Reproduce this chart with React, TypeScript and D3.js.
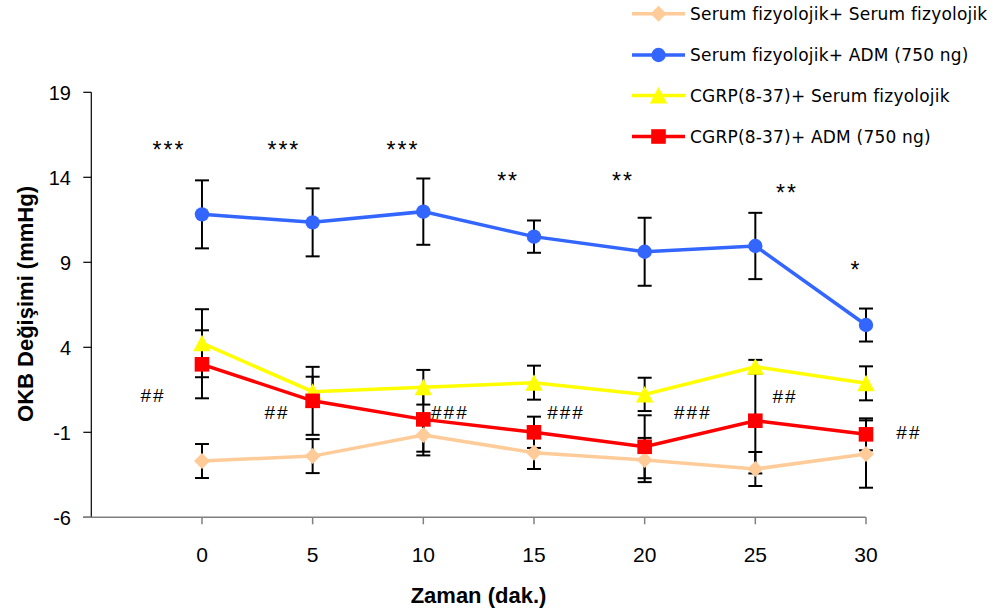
import React from "react";
import * as d3 from "d3";

// Time points (minutes)
const times = [0, 5, 10, 15, 20, 25, 30];

// Series means and SEM
const sfSf = [-2.69, -2.4, -1.16, -2.2, -2.63, -3.16, -2.28];
const sfSfErr = [1.0, 1.0, 1.2, 0.96, 1.3, 1.0, 1.98];

const sfAdm = [11.82, 11.35, 11.98, 10.51, 9.62, 9.96, 5.31];
const sfAdmErr = [2.0, 2.0, 1.95, 0.95, 2.0, 1.95, 0.97];

const cgrpSf = [4.24, 1.39, 1.65, 1.92, 1.23, 2.86, 1.88];
const cgrpSfErr = [2.0, 0.88, 1.02, 1.0, 0.98, 0.4, 1.0];

const cgrpAdm = [3.0, 0.85, -0.24, -1.0, -1.85, -0.32, -1.12];
const cgrpAdmErr = [2.0, 2.0, 1.9, 0.92, 1.85, 3.1, 0.94];

const seriesNames = [
  "Serum fizyolojik+ Serum fizyolojik",
  "Serum fizyolojik+ ADM (750 ng)",
  "CGRP(8-37)+ Serum fizyolojik",
  "CGRP(8-37)+ ADM (750 ng)",
];

const yTicks = [-6, -1, 4, 9, 14, 19];
const xTicks = [0, 5, 10, 15, 20, 25, 30];

// Significance marks, placed in data coordinates
const annotations: { t: number; v: number; label: string }[] = [
  { t: -1.49, v: 15.84, label: "***" },
  { t: 3.7, v: 15.84, label: "***" },
  { t: 9.08, v: 15.84, label: "***" },
  { t: 13.83, v: 14.02, label: "**" },
  { t: 19.02, v: 14.02, label: "**" },
  { t: 26.43, v: 13.31, label: "**" },
  { t: 29.55, v: 8.78, label: "*" },
  { t: -2.21, v: 1.19, label: "##" },
  { t: 3.39, v: 0.19, label: "##" },
  { t: 11.2, v: 0.19, label: "###" },
  { t: 16.45, v: 0.19, label: "###" },
  { t: 22.18, v: 0.19, label: "###" },
  { t: 26.34, v: 1.14, label: "##" },
  { t: 31.94, v: -0.98, label: "##" },
];

type Shape = "diamond" | "circle" | "triangle" | "square";

const series: { name: string; values: number[]; errs: number[]; color: string; shape: Shape }[] = [
  { name: seriesNames[0], values: sfSf, errs: sfSfErr, color: "#FFCC99", shape: "diamond" },
  { name: seriesNames[1], values: sfAdm, errs: sfAdmErr, color: "#3366FF", shape: "circle" },
  { name: seriesNames[2], values: cgrpSf, errs: cgrpSfErr, color: "#FFFF00", shape: "triangle" },
  { name: seriesNames[3], values: cgrpAdm, errs: cgrpAdmErr, color: "#FF0000", shape: "square" },
];

const W = 996;
const H = 614;

const x = d3.scaleLinear().domain([-5, 30]).range([91.3, 866]);
const y = d3.scaleLinear().domain([-6, 19]).range([517.3, 92.3]);

function Marker({ shape, cx, cy, color }: { shape: Shape; cx: number; cy: number; color: string }) {
  if (shape === "circle") return <circle cx={cx} cy={cy} r={7.2} fill={color} />;
  if (shape === "square") return <rect x={cx - 7.3} y={cy - 7.3} width={14.6} height={14.6} fill={color} />;
  if (shape === "triangle")
    return <path d={`M${cx},${cy - 8.5}L${cx + 8.7},${cy + 8}L${cx - 8.7},${cy + 8}Z`} fill={color} />;
  return <path d={`M${cx},${cy - 8}L${cx + 8},${cy}L${cx},${cy + 8}L${cx - 8},${cy}Z`} fill={color} />;
}

export default function App() {
  const line = d3
    .line<number>()
    .x((_, i) => x(times[i]))
    .y((d) => y(d));

  const cap = 7;
  const legendRows = [13.7, 55, 95.5, 136.5];

  return (
    <svg
      width={W}
      height={H}
      style={{ position: "absolute", left: 0, top: 0, background: "#fff" }}
      fontFamily="'Liberation Sans', Arial, sans-serif"
    >
      <rect width={W} height={H} fill="#fff" />

      {/* y axis */}
      <line x1={x(-5)} x2={x(-5)} y1={y(19)} y2={y(-6)} stroke="#000" strokeWidth={1.2} />
      {yTicks.map((t) => (
        <g key={t}>
          <line x1={x(-5) - 8} x2={x(-5)} y1={y(t)} y2={y(t)} stroke="#000" strokeWidth={1.2} />
          <text x={71} y={y(t) + 7.3} textAnchor="end" fontSize={20} fill="#000">
            {t}
          </text>
        </g>
      ))}

      {/* x axis */}
      <line x1={x(-5) - 8} x2={x(30)} y1={y(-6)} y2={y(-6)} stroke="#808080" strokeWidth={1.5} />
      {xTicks.map((t) => (
        <g key={t}>
          <line x1={x(t)} x2={x(t)} y1={y(-6)} y2={y(-6) + 7} stroke="#808080" strokeWidth={1.5} />
          <text x={x(t)} y={561.7} textAnchor="middle" fontSize={21} fill="#000">
            {t}
          </text>
        </g>
      ))}

      {/* axis titles */}
      <text x={478.5} y={603} textAnchor="middle" fontSize={22} fontWeight="bold" fill="#000">
        Zaman (dak.)
      </text>
      <text
        transform={`translate(33,304) rotate(-90)`}
        textAnchor="middle"
        fontSize={22}
        fontWeight="bold"
        fill="#000"
      >
        OKB Değişimi (mmHg)
      </text>

      {/* error bars */}
      {series.map((s) => (
        <g key={s.name + "-err"} stroke="#000" strokeWidth={2}>
          {s.values.map((v, i) => {
            const cx = x(times[i]);
            const top = y(v + s.errs[i]);
            const bot = y(v - s.errs[i]);
            return (
              <g key={i}>
                <line x1={cx} x2={cx} y1={top} y2={bot} />
                <line x1={cx - cap} x2={cx + cap} y1={top} y2={top} />
                <line x1={cx - cap} x2={cx + cap} y1={bot} y2={bot} />
              </g>
            );
          })}
        </g>
      ))}

      {/* lines and markers */}
      {series.map((s) => (
        <g key={s.name}>
          <path d={line(s.values) || ""} fill="none" stroke={s.color} strokeWidth={3.5} />
          {s.values.map((v, i) => (
            <Marker key={i} shape={s.shape} cx={x(times[i])} cy={y(v)} color={s.color} />
          ))}
        </g>
      ))}

      {/* significance marks */}
      {annotations.map((a, i) => {
        const isStar = a.label.startsWith("*");
        return (
          <text
            key={i}
            x={x(a.t)}
            y={y(a.v) + (isStar ? 12 : 7)}
            textAnchor="middle"
            fontSize={isStar ? 23 : 19}
            letterSpacing={2}
            fill="#000"
          >
            {a.label}
          </text>
        );
      })}

      {/* legend */}
      {series.map((s, i) => (
        <g key={s.name + "-leg"}>
          <line x1={632} x2={685} y1={legendRows[i]} y2={legendRows[i]} stroke={s.color} strokeWidth={3.5} />
          <Marker shape={s.shape} cx={658.5} cy={legendRows[i]} color={s.color} />
          <text
            x={690}
            y={legendRows[i] + 6.3}
            fontSize={17}
            letterSpacing={0.2}
            fontFamily="'DejaVu Sans', Verdana, sans-serif"
            fill="#000"
          >
            {s.name}
          </text>
        </g>
      ))}
    </svg>
  );
}
